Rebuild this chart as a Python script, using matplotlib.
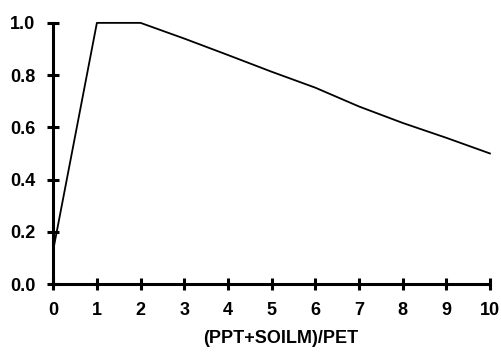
import matplotlib
matplotlib.use("Agg")
import matplotlib.pyplot as plt

# ratio of (precipitation + soil moisture) to PET, and the response factor
ratio = [0, 1, 2, 3, 4, 5, 6, 7, 8, 9, 10]
factor = [0.13, 1.0, 1.0, 0.94, 0.877, 0.813, 0.752, 0.68, 0.617, 0.56, 0.50]

x_ticks = [0, 1, 2, 3, 4, 5, 6, 7, 8, 9, 10]
y_ticks = [0.0, 0.2, 0.4, 0.6, 0.8, 1.0]

plt.rcParams['font.family'] = ['Liberation Sans', 'DejaVu Sans']
plt.rcParams['font.weight'] = 'bold'

fig = plt.figure(figsize=(5.02, 3.52), dpi=100)
ax = fig.add_axes([0.106, 0.193, 0.87, 0.742])

ax.plot(ratio, factor, color='black', linewidth=1.3, clip_on=False)

ax.set_xlim(0, 10)
ax.set_ylim(0, 1.0)
ax.set_xticks(x_ticks)
ax.set_yticks(y_ticks)
ax.set_yticklabels([f"{v:.1f}" for v in y_ticks])

for side in ('top', 'right'):
    ax.spines[side].set_visible(False)
for side in ('left', 'bottom'):
    ax.spines[side].set_linewidth(2.2)

ax.tick_params(direction='inout', length=8, width=2.2, labelsize=13)
ax.tick_params(axis='x', pad=9)
ax.tick_params(axis='y', pad=9)
for lbl in ax.get_xticklabels() + ax.get_yticklabels():
    lbl.set_fontweight('bold')

ax.set_xlabel("(PPT+SOILM)/PET", fontsize=13, fontweight='bold')
ax.xaxis.set_label_coords(0.52, -0.175)

fig.savefig("out.png", dpi=100)
